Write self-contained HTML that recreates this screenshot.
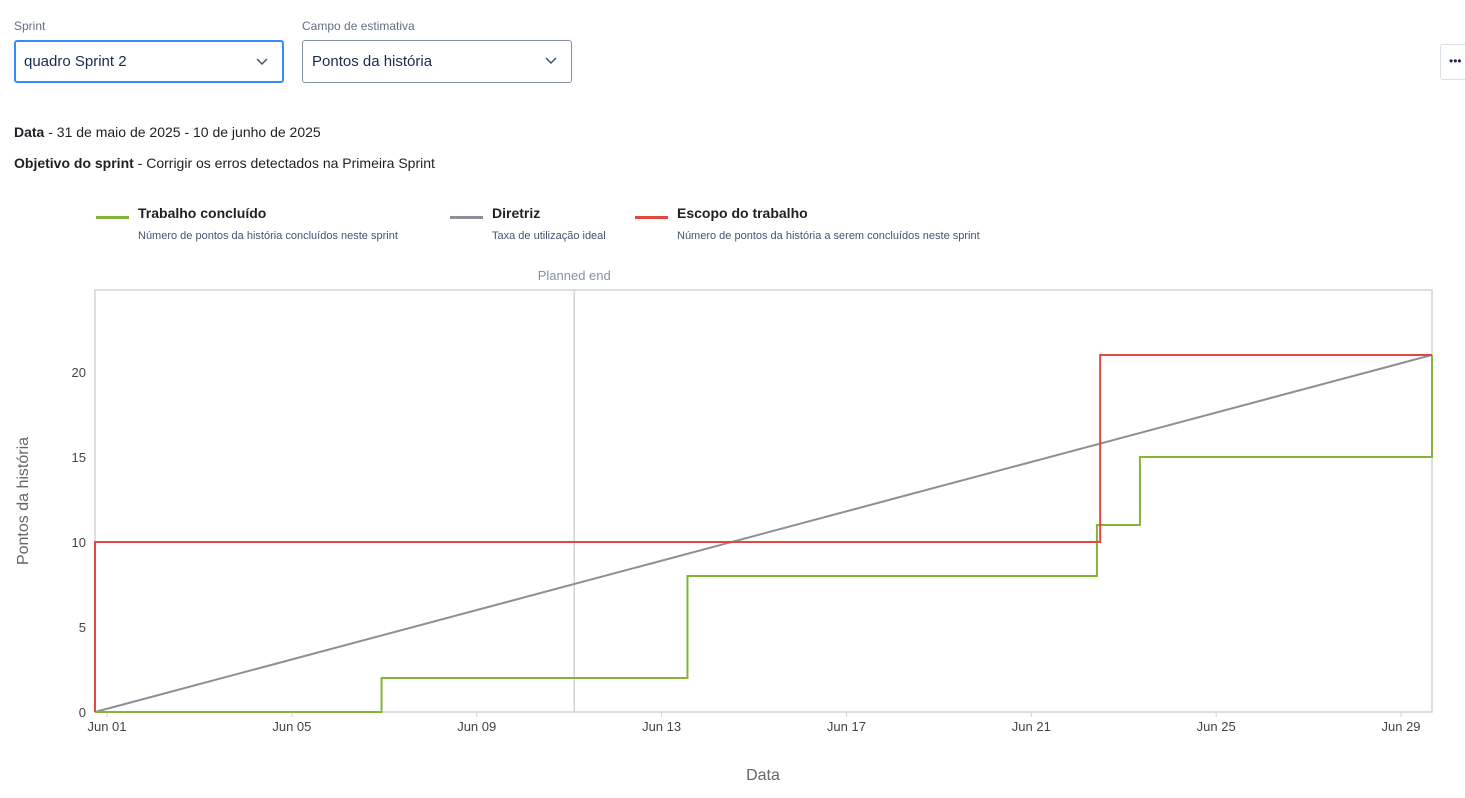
<!DOCTYPE html>
<html><head><meta charset="utf-8"><style>
body{margin:0;width:1465px;height:798px;background:#fff;font-family:"Liberation Sans",sans-serif;color:#172b4d;overflow:hidden;position:relative}
.lbl{position:absolute;font-size:12px;color:#626f86;top:19px}
.sel{position:absolute;top:40px;height:43px;border:1px solid #8590a2;border-radius:3px;box-sizing:border-box;font-size:15px;line-height:41px;padding-left:9px;color:#172b4d}
.sel svg{position:absolute;right:14px;top:16px}
.info{position:absolute;left:14px;font-size:14px;color:#1d2125}
.leg{position:absolute;top:205px}
.leg .sw{position:absolute;left:0;top:11px;width:33px;height:3px}
.leg .t{position:absolute;left:42px;top:0;font-size:14px;font-weight:bold;white-space:nowrap;color:#1d2125}
.leg .d{position:absolute;left:42px;top:25px;font-size:11px;color:#44546f;white-space:nowrap}
</style></head><body>
<div class="lbl" style="left:14px">Sprint</div>
<div class="sel" style="left:14px;width:270px;border:2px solid #388bff;line-height:39px;padding-left:8px">quadro Sprint 2<svg width="12" height="8" viewBox="0 0 12 8"><path d="M1 1l5 5 5-5" fill="none" stroke="#44546f" stroke-width="1.5"/></svg></div>
<div class="lbl" style="left:302px">Campo de estimativa</div>
<div class="sel" style="left:302px;width:270px">Pontos da história<svg width="12" height="8" viewBox="0 0 12 8"><path d="M1 1l5 5 5-5" fill="none" stroke="#44546f" stroke-width="1.5"/></svg></div>
<div style="position:absolute;left:1440px;top:44px;width:40px;height:36px;border:1px solid #dcdfe4;border-radius:3px;font-size:12px;line-height:32px;padding-left:8px;box-sizing:border-box">•••</div>
<div class="info" style="top:124px"><b>Data</b> - 31 de maio de 2025 - 10 de junho de 2025</div>
<div class="info" style="top:155px"><b>Objetivo do sprint</b> - Corrigir os erros detectados na Primeira Sprint</div>
<div class="leg" style="left:96px"><div class="sw" style="background:#82b536"></div><div class="t">Trabalho concluído</div><div class="d">Número de pontos da história concluídos neste sprint</div></div>
<div class="leg" style="left:450px"><div class="sw" style="background:#8c8f98"></div><div class="t">Diretriz</div><div class="d">Taxa de utilização ideal</div></div>
<div class="leg" style="left:635px"><div class="sw" style="background:#e2483d"></div><div class="t">Escopo do trabalho</div><div class="d">Número de pontos da história a serem concluídos neste sprint</div></div>
<svg id="chart" style="position:absolute;left:0;top:0" width="1465" height="798"></svg>
<script>
const xTickLabels=["Jun 01","Jun 05","Jun 09","Jun 13","Jun 17","Jun 21","Jun 25","Jun 29"];
const xTickDays=[0,4,8,12,16,20,24,28];
const yTicks=[0,5,10,15,20];
const completedDays=[-0.26,5.94,12.56,21.42,22.35,28.67];
const completedValues=[0,2,8,11,15,21];
const scopeDays=[-0.26,21.49,28.67];
const scopeValues=[10,21,21];
const guideDays=[-0.26,28.67];
const guideValues=[0,21];
const plannedEndDay=10.11;
const X0=95,X1=1432,Y0=712,Y1=290,D0=-0.26,D1=28.67,VMAX=24.82;
const x=d=>X0+(d-D0)/(D1-D0)*(X1-X0);
const y=v=>Y0-v/VMAX*(Y0-Y1);
const svg=document.getElementById('chart');const NS='http://www.w3.org/2000/svg';
function mk(t,a,p){const e=document.createElementNS(NS,t);for(const k in a)e.setAttribute(k,a[k]);(p||svg).appendChild(e);return e;}
let e=mk('rect',{x:X0,y:Y1,width:X1-X0,height:Y0-Y1,fill:'none',stroke:'#d3d3d3','stroke-width':1.5});


e=mk('line',{x1:x(plannedEndDay),x2:x(plannedEndDay),y1:Y1,y2:Y0,stroke:'#d3d3d3','stroke-width':1.5});


e=mk('text',{x:x(plannedEndDay),y:280,'text-anchor':'middle','font-size':13,fill:'#8590a2','font-family':'Liberation Sans'});e.textContent='Planned end';


xTickDays.forEach((d,i)=>{
 e=mk('line',{x1:x(d),x2:x(d),y1:Y0,y2:Y0+5,stroke:'#d3d3d3'});
 
 
 e=mk('text',{x:x(d),y:731,'text-anchor':'middle','font-size':13,fill:'#444','font-family':'Liberation Sans'});e.textContent=xTickLabels[i];
 
 
});
yTicks.forEach(v=>{
 e=mk('text',{x:86,y:y(v)+5,'text-anchor':'end','font-size':13,fill:'#444','font-family':'Liberation Sans'});e.textContent=v;
 
 
});
e=mk('text',{x:763,y:780,'text-anchor':'middle','font-size':16,fill:'#666','font-family':'Liberation Sans'});e.textContent='Data';


e=mk('text',{x:0,y:0,'text-anchor':'middle','font-size':16,fill:'#666','font-family':'Liberation Sans',transform:'translate(28,501) rotate(-90)'});e.textContent='Pontos da história';


function step(ds,vs){let p='M'+x(ds[0])+','+y(0)+' L'+x(ds[0])+','+y(vs[0]);for(let i=1;i<ds.length;i++){p+=' L'+x(ds[i])+','+y(vs[i-1])+' L'+x(ds[i])+','+y(vs[i]);}return p;}
e=mk('path',{d:'M'+x(guideDays[0])+','+y(guideValues[0])+' L'+x(guideDays[1])+','+y(guideValues[1]),stroke:'#8c8f98','stroke-width':2,fill:'none'});


e=mk('path',{d:step(completedDays,completedValues),stroke:'#82b536','stroke-width':2,fill:'none'});


e=mk('path',{d:step(scopeDays,scopeValues),stroke:'#e2483d','stroke-width':2,fill:'none'});


</script>
</body></html>
